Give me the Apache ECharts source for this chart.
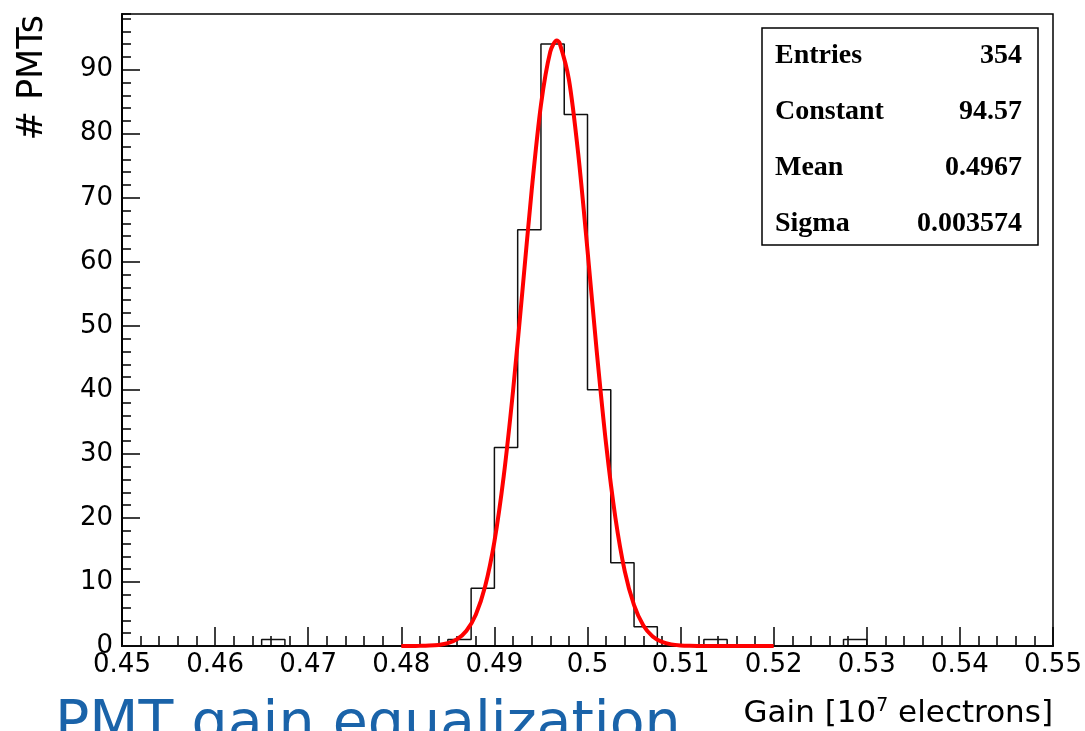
<!DOCTYPE html>
<html>
<head>
<meta charset="utf-8">
<script src="https://cdn.jsdelivr.net/npm/echarts@6/dist/echarts.min.js"></script>
<style>
html,body{margin:0;padding:0;background:#fff;}
#c{width:1085px;height:731px;}
</style>
</head>
<body>
<div id="c"></div>
<script>
// Histogram: 40 bins of width 0.0025 from 0.45 to 0.55
var binStart = 0.45;
var binWidth = 0.0025;
var binCounts = [
  0,0,0,0,0,0, 1,0,0,0,   // 0.450 - 0.475
  0,0,0,0,1,9,31,65,94,83, // 0.475 - 0.500
  40,13,3,0,0,1,0,0,0,0,   // 0.500 - 0.525
  0,1,0,0,0,0,0,0,0,0      // 0.525 - 0.550
];
// Gaussian fit curve (0.48 - 0.52)
var fitX = [0.480,0.481,0.482,0.483,0.484,0.485,0.486,0.487,0.488,0.489,
            0.490,0.491,0.492,0.493,0.494,0.495,0.496,0.4967,0.497,0.498,0.499,
            0.500,0.501,0.502,0.503,0.504,0.505,0.506,0.507,0.508,0.509,
            0.510,0.511,0.512,0.513,0.514,0.515,0.516,0.517,0.518,0.519,0.520];
var fitY = [0.0,0.01,0.02,0.06,0.17,0.44,1.07,2.38,4.89,9.28,
            16.3,26.5,39.8,55.3,71.1,84.5,92.8,94.57,94.2,88.5,76.9,
            61.8,45.9,31.5,20.0,11.7,6.38,3.21,1.49,0.64,0.25,
            0.09,0.03,0.01,0,0,0,0,0,0,0,0];
var xTicks = {min:0.45, max:0.55, step:0.01};
var yTicks = {min:0, max:98.7, major:10, minor:2};
var statNames = ['Entries','Constant','Mean','Sigma'];
var statValues = ['354','94.57','0.4967','0.003574'];

var histData = binCounts.map(function(c,i){ return [binStart + i*binWidth, c]; });
histData.push([binStart + binCounts.length*binWidth, 0]);
var fitData = fitX.map(function(x,i){ return [x, fitY[i]]; });

var chart = echarts.init(document.getElementById('c'), null, {renderer:'canvas'});
var FONT = 'DejaVu Sans';
var statGraphics = [];
var rowY = [56,112,168,224];
statNames.forEach(function(n,i){
  statGraphics.push({type:'text', x:775, y:rowY[i], z:20,
    style:{text:n, font:'bold 28px "Liberation Serif"', fill:'#000', textAlign:'left', textVerticalAlign:'middle'}});
  statGraphics.push({type:'text', x:1022, y:rowY[i], z:20,
    style:{text:statValues[i], font:'bold 28px "Liberation Serif"', fill:'#000', textAlign:'right', textVerticalAlign:'middle'}});
});

var option = {
  animation:false,
  backgroundColor:'#fff',
  grid:{left:122, right:32, top:14, bottom:85, show:true, borderColor:'#000', borderWidth:1.5, backgroundColor:'transparent'},
  xAxis:{
    type:'value', min:xTicks.min, max:xTicks.max, interval:xTicks.step,
    axisLine:{show:true, onZero:false, lineStyle:{color:'#000', width:2}},
    axisTick:{show:true, inside:true, length:19, lineStyle:{color:'#000', width:1.5}},
    minorTick:{show:true, splitNumber:5, length:10, lineStyle:{color:'#000', width:1.5}},
    splitLine:{show:false},
    axisLabel:{color:'#000', fontFamily:FONT, fontSize:26, margin:6,
      formatter:function(v){ return String(+v.toFixed(2)); }}
  },
  yAxis:[{
    type:'value', min:yTicks.min, max:yTicks.max, interval:yTicks.major, position:'left',
    axisLine:{show:true, onZero:false, lineStyle:{color:'#000', width:2}},
    axisTick:{show:true, inside:true, length:18, lineStyle:{color:'#000', width:1.5}},
    splitLine:{show:false},
    axisLabel:{color:'#000', fontFamily:FONT, fontSize:26, margin:9, showMaxLabel:false,
      formatter:function(v){ return (Math.abs(v % 10) < 1e-9) ? String(v) : ''; }}
  },{
    type:'value', min:yTicks.min, max:yTicks.max, interval:yTicks.minor, position:'left',
    axisLine:{show:false},
    axisTick:{show:true, inside:true, length:9, lineStyle:{color:'#000', width:1.5}},
    splitLine:{show:false},
    axisLabel:{show:false}
  }],
  series:[{
    type:'line', step:'end', data:histData, showSymbol:false, symbol:'none',
    lineStyle:{color:'#111', width:1.5}, z:3, silent:true
  },{
    type:'line', data:fitData, smooth:0.3, showSymbol:false, symbol:'none', clip:false,
    lineStyle:{color:'#ff0000', width:4}, z:4, silent:true
  }],
  graphic:[
    {type:'rect', shape:{x:762, y:28, width:276, height:217}, z:10,
     style:{fill:'#fff', stroke:'#000', lineWidth:1.5}},
    {type:'text', x:33, y:15, rotation:Math.PI/2, z:10,
     style:{text:'# PMTs', font:'35px "DejaVu Sans"', fill:'#000', textAlign:'right', textVerticalAlign:'middle'}},
    {type:'text', x:1053, y:731, z:10,
     style:{text:'{a|Gain [10}{s|7}{a| electrons]}', textAlign:'right', textVerticalAlign:'bottom',
       rich:{a:{fontFamily:FONT, fontSize:31, fill:'#000', color:'#000', lineHeight:34},
             s:{fontFamily:FONT, fontSize:19, fill:'#000', color:'#000', verticalAlign:'top', lineHeight:34}}}},
    {type:'text', x:55, y:755, z:10,
     style:{text:'PMT gain equalization', font:'57px "DejaVu Sans"', fill:'#1a63a9', textAlign:'left', textVerticalAlign:'bottom'}}
  ].concat(statGraphics)
};
chart.setOption(option);
</script>
</body>
</html>
